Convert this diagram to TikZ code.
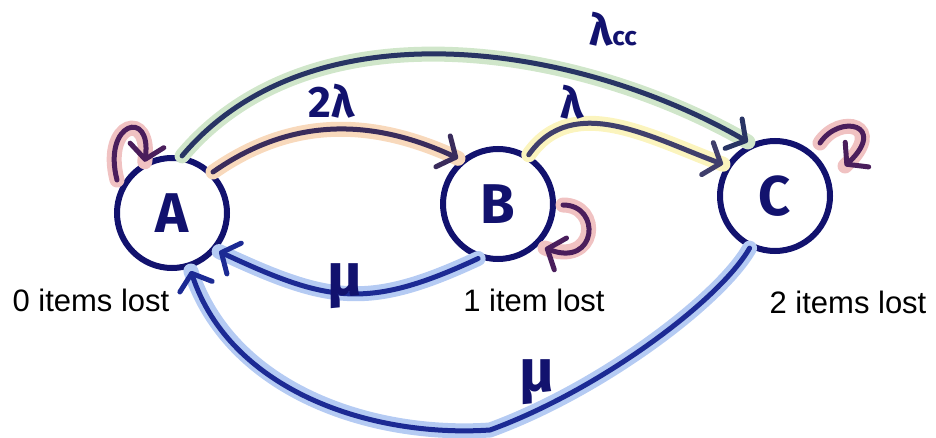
\documentclass[tikz,border=0pt]{standalone}
\usepackage{fontspec}
\setmainfont{Liberation Sans}
\newfontfamily\hand{Fira Sans}
\usetikzlibrary{arrows.meta}
\definecolor{navy}{HTML}{12126E}
\definecolor{edgeab}{HTML}{3A2C5C}
\definecolor{edgebc}{HTML}{403F6C}
\definecolor{edgeac}{HTML}{283464}
\definecolor{edgemu}{HTML}{1C2A94}
\definecolor{loopc}{HTML}{4A1E5C}
\definecolor{hlpeach}{HTML}{F8D9BC}
\definecolor{hlyellow}{HTML}{FBF4BE}
\definecolor{hlgreen}{HTML}{D0E6CA}
\definecolor{hlblue}{HTML}{B5CBF3}
\definecolor{hlpink}{HTML}{F0C2C2}
\begin{document}
\begin{tikzpicture}[x=1pt,y=-1pt,
  state/.style={circle, draw=navy, line width=6pt, minimum size=110pt, inner sep=0pt,
    font=\hand\bfseries\fontsize{56}{56}\selectfont, text=navy},
  hl/.style={preaction={draw=#1, line width=15pt, -, line cap=round}},
  conn/.style={line width=5pt, line cap=round,
    -{Straight Barb[length=14pt,width=34pt,round]}, shorten >=3pt},
  lbl/.style={font=\hand\bfseries\fontsize{44}{44}\selectfont, text=navy, inner sep=0pt},
  mulbl/.style={font=\hand\bfseries\fontsize{60}{60}\selectfont, text=navy, inner sep=0pt},
  captext/.style={font=\fontsize{31}{31}\selectfont, text=black, inner sep=0pt}]
\useasboundingbox (0,0) rectangle (936,438);

\node[state] (A) at (172,213) {A};
\node[state] (B) at (498,204) {B};
\node[state] (C) at (775,196) {C};

\node[captext] (tA) at (91,300) {0 items lost};
\node[captext] (tB) at (534,300) {1 item lost};
\node[captext] (tC) at (848,302) {2 items lost};

% forward edges
\draw[conn, hl=hlgreen, draw=edgeac] (A.80) to[out=50, in=150, looseness=0.9] (C.115);
\draw[conn, hl=hlpeach, draw=edgeab] (A.45) to[out=35, in=155] (B.130);
\draw[conn, hl=hlyellow, draw=edgebc] (B.58) to[out=55, in=160] (C.148);

% return edges
\draw[conn, hl=hlblue, draw=edgemu] (B.250) to[out=205, in=-25, looseness=1.2] (A.-40);
\draw[conn, hl=hlblue, draw=edgemu] (C.244) .. controls (720,300) and (600,390) .. (490,430)
   .. controls (370,438) and (230,390) .. (A.-72);

% self loops
\coordinate (la) at (117,180);
\coordinate (lb) at (563,205);
\coordinate (lc) at (820,143);
\draw[conn, hl=hlpink, draw=loopc, shorten >=0pt] (la) .. controls (102,122) and (152,108) .. (A.118);
\draw[conn, hl=hlpink, draw=loopc, shorten >=0pt] (lb) .. controls (602,205) and (597,268) .. (545,248);
\draw[conn, hl=hlpink, draw=loopc, shorten >=0pt] (lc) .. controls (840,113) and (888,125) .. (845,166);

% labels
\node[lbl] (l2) at (332,101) {2λ};
\node[lbl] (l1) at (572,102) {λ};
\node[lbl, anchor=base west] (lcc) at (589,46) {λ\fontsize{26}{26}\selectfont cc};
\node[mulbl] (m1) at (345,286) {μ};
\node[mulbl] (m2) at (537,382) {μ};
\end{tikzpicture}
\end{document}
